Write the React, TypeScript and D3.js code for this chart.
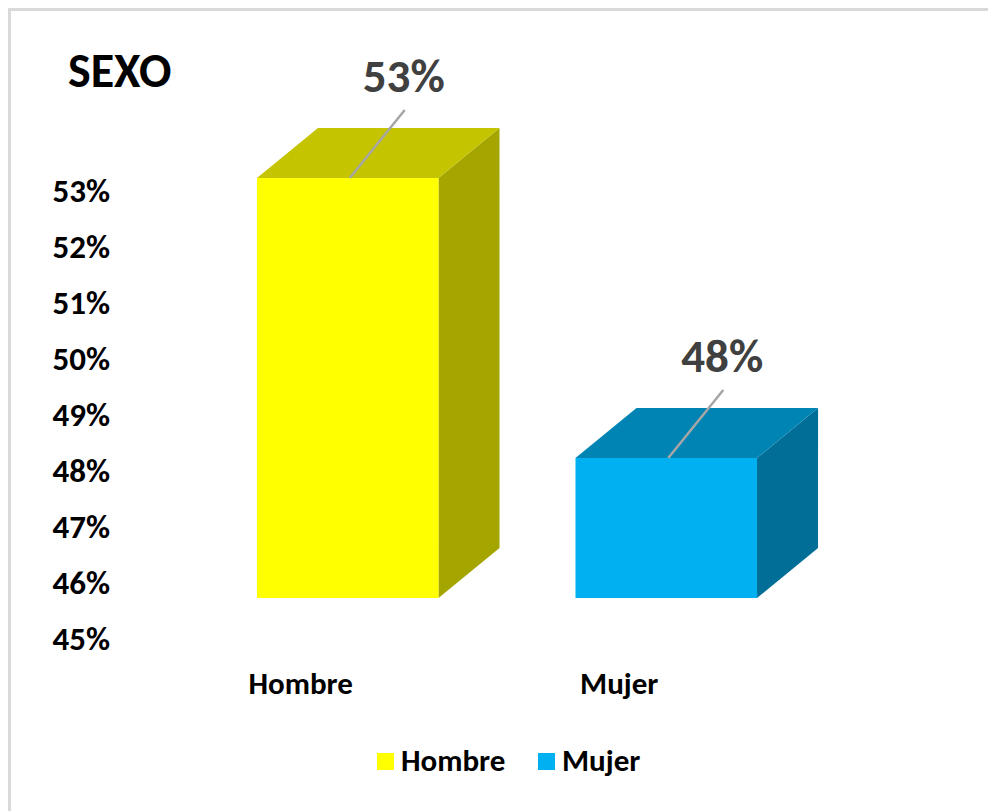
import React, { useEffect, useRef } from 'react';
import * as d3 from 'd3';

const categories = ['Hombre', 'Mujer'];
const values = [52.5, 47.5];
const valueLabels = ['53%', '48%'];
const yTicks = [45, 46, 47, 48, 49, 50, 51, 52, 53];
const frontColors = ['#FFFF00', '#00B0F0'];
const topColors = ['#C4C400', '#0084B4'];
const sideColors = ['#A5A500', '#006E96'];

const FONT = 'Carlito, Calibri, Lato, sans-serif';

const App = () => {
  const svgRef = useRef<SVGSVGElement | null>(null);
  const width = 988;
  const height = 811;

  useEffect(() => {
    const svg = d3.select(svgRef.current);
    svg.selectAll('*').remove();

    // frame (only top and left edges are visible)
    svg.append('line').attr('x1', 8).attr('x2', width).attr('y1', 9.5).attr('y2', 9.5)
      .attr('stroke', '#d9d9d9').attr('stroke-width', 3);
    svg.append('line').attr('x1', 9.5).attr('x2', 9.5).attr('y1', 8).attr('y2', height)
      .attr('stroke', '#d9d9d9').attr('stroke-width', 3);

    const x = d3.scaleBand().domain(categories).range([120, 894]).padding(0.43);
    // front plane of the bars
    const y = d3.scaleLinear().domain([45, 53]).range([598, 150]);
    const depthX = 61, depthY = 50;

    // title
    svg.append('text').attr('x', 68).attr('y', 87).text('SEXO')
      .style('font-family', FONT).style('font-weight', 700).style('font-size', '48px').style('fill', '#000');

    // y axis labels (baseline a bit below the front plane value)
    svg.append('g').selectAll('text').data(yTicks).join('text')
      .attr('x', 110).attr('y', d => y(d) + 52)
      .attr('text-anchor', 'end')
      .text(d => `${d}%`)
      .style('font-family', FONT).style('font-weight', 700).style('font-size', '33px').style('fill', '#000');

    const bars = svg.append('g');
    categories.forEach((c, i) => {
      const x0 = x(c)!;
      const x1 = x0 + x.bandwidth();
      const yt = y(values[i]);
      const yb = y(45);
      const g = bars.append('g');
      // side face
      g.append('path')
        .attr('d', `M${x1},${yt}L${x1 + depthX},${yt - depthY}L${x1 + depthX},${yb - depthY}L${x1},${yb}Z`)
        .attr('fill', sideColors[i]);
      // top face
      g.append('path')
        .attr('d', `M${x0},${yt}L${x0 + depthX},${yt - depthY}L${x1 + depthX},${yt - depthY}L${x1},${yt}Z`)
        .attr('fill', topColors[i]);
      // front face
      g.append('rect').attr('x', x0).attr('y', yt).attr('width', x.bandwidth()).attr('height', yb - yt)
        .attr('fill', frontColors[i]);

      const cx = x0 + x.bandwidth() / 2;
      // leader line
      g.append('line')
        .attr('x1', cx + 2).attr('y1', yt)
        .attr('x2', cx + 57).attr('y2', yt - 68)
        .attr('stroke', '#A6A6A6').attr('stroke-width', 2.5);
      // data label
      g.append('text').attr('x', cx + 56).attr('y', yt - 86)
        .attr('text-anchor', 'middle').text(valueLabels[i])
        .style('font-family', FONT).style('font-weight', 700).style('font-size', '47px').style('fill', '#404040');

      // category label
      svg.append('text').attr('x', cx - 47).attr('y', 694)
        .attr('text-anchor', 'middle').text(c)
        .style('font-family', FONT).style('font-weight', 700).style('font-size', '31px').style('fill', '#000');
    });

    // legend
    const legendX = [377, 538];
    const legend = svg.append('g');
    categories.forEach((c, i) => {
      legend.append('rect').attr('x', legendX[i]).attr('y', 753).attr('width', 17).attr('height', 17)
        .attr('fill', frontColors[i]);
      legend.append('text').attr('x', legendX[i] + 24).attr('y', 771).text(c)
        .style('font-family', FONT).style('font-weight', 700).style('font-size', '31px').style('fill', '#000');
    });
  }, []);

  return (
    <svg ref={svgRef} width={width} height={height}
      style={{ position: 'absolute', left: 0, top: 0, display: 'block', background: '#fff' }} />
  );
};

export default App;
